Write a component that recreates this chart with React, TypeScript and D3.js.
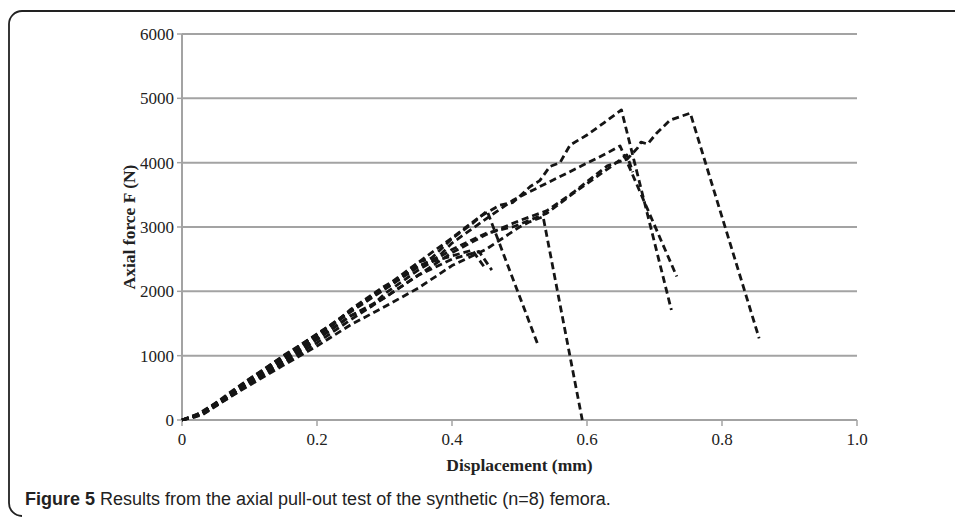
import React from "react";
import * as d3 from "d3";

type Pt = [number, number];

// displacement (mm), axial force (N), one array per femur
const femurA: Pt[] = [[0, 0], [0.02, 70], [0.06, 330], [0.1, 640], [0.13, 830], [0.15, 980], [0.2, 1340], [0.23, 1540], [0.25, 1720], [0.3, 2080], [0.33, 2260], [0.35, 2450], [0.4, 2830], [0.441, 3160], [0.471, 3340], [0.49, 3380], [0.516, 3630], [0.53, 3720], [0.545, 3940], [0.56, 4000], [0.575, 4275], [0.6, 4430], [0.624, 4610], [0.651, 4820], [0.725, 1710]];
const femurB: Pt[] = [[0, 0], [0.02, 50], [0.06, 300], [0.1, 600], [0.15, 950], [0.18, 1150], [0.2, 1300], [0.25, 1680], [0.3, 2030], [0.35, 2380], [0.38, 2540], [0.4, 2750], [0.451, 3130], [0.491, 3420], [0.54, 3680], [0.59, 3940], [0.629, 4145], [0.649, 4260], [0.733, 2230]];
const femurC: Pt[] = [[0, 0], [0.03, 100], [0.07, 380], [0.1, 580], [0.15, 900], [0.2, 1250], [0.25, 1620], [0.28, 1760], [0.3, 1960], [0.35, 2330], [0.4, 2650], [0.45, 2900], [0.491, 3005], [0.54, 3210], [0.58, 3525], [0.614, 3780], [0.639, 3965], [0.659, 4120], [0.668, 3850]];
const femurD: Pt[] = [[0, 0], [0.03, 80], [0.07, 350], [0.1, 560], [0.15, 880], [0.2, 1200], [0.25, 1560], [0.3, 1900], [0.35, 2250], [0.4, 2600], [0.45, 2880], [0.5, 3100], [0.54, 3250], [0.58, 3540], [0.63, 3950], [0.66, 4060], [0.675, 4230], [0.68, 4320], [0.69, 4290], [0.703, 4457], [0.723, 4660], [0.753, 4770], [0.855, 1270]];
const femurE: Pt[] = [[0, 0], [0.02, 60], [0.06, 320], [0.1, 630], [0.15, 1000], [0.2, 1330], [0.25, 1700], [0.3, 2060], [0.35, 2450], [0.37, 2520], [0.4, 2820], [0.43, 3050], [0.452, 3250], [0.528, 1150]];
const femurF: Pt[] = [[0, 0], [0.03, 110], [0.07, 420], [0.1, 640], [0.15, 990], [0.2, 1320], [0.25, 1700], [0.3, 2040], [0.35, 2400], [0.4, 2550], [0.43, 2640], [0.447, 2390]];
const femurG: Pt[] = [[0, 0], [0.04, 160], [0.08, 450], [0.1, 590], [0.15, 930], [0.2, 1260], [0.25, 1620], [0.3, 1900], [0.35, 2250], [0.4, 2500], [0.44, 2620], [0.459, 2330]];
const femurH: Pt[] = [[0, 0], [0.03, 90], [0.07, 350], [0.1, 540], [0.15, 850], [0.2, 1150], [0.25, 1480], [0.3, 1760], [0.35, 2050], [0.4, 2400], [0.45, 2650], [0.5, 3000], [0.515, 3080], [0.535, 3160], [0.593, 0]];

const series = [femurA, femurB, femurC, femurD, femurE, femurF, femurG, femurH];

const xTicks = [0, 0.2, 0.4, 0.6, 0.8, 1.0];
const xTickLabels = ["0", "0.2", "0.4", "0.6", "0.8", "1.0"];
const yTicks = [0, 1000, 2000, 3000, 4000, 5000, 6000];

const xTitle = "Displacement (mm)";
const yTitle = "Axial force F (N)";
const captionBold = "Figure 5";
const captionText = " Results from the axial pull-out test of the synthetic (n=8) femora.";

const W = 955;
const H = 517;
const grid = "#a3a3a3";
const serif = "'Liberation Serif', 'Times New Roman', serif";

export default function App() {
  const x = d3.scaleLinear().domain([0, 1]).range([182, 857]);
  const y = d3.scaleLinear().domain([0, 6000]).range([420, 34]);

  const line = d3
    .line<Pt>()
    .x((d) => x(d[0]))
    .y((d) => y(d[1]));

  return (
    <div style={{ position: "fixed", left: 0, top: 0, width: W, height: H, background: "#fff" }}>
      <svg width={W} height={H}>
        {/* frame */}
        <path d={`M${W},11 H22 A13,13 0 0 0 9,24 V503 A13,13 0 0 0 22,516`} fill="none" stroke="#222" strokeWidth={1.8} />

        {/* gridlines */}
        {yTicks.map((t) => (
          <line key={t} x1={x(0)} x2={x(1)} y1={y(t)} y2={y(t)} stroke={grid} strokeWidth={2} />
        ))}
        {/* y axis + ticks */}
        <line x1={x(0)} x2={x(0)} y1={y(6000)} y2={y(0)} stroke={grid} strokeWidth={2} />
        {yTicks.map((t) => (
          <g key={"yt" + t}>
            <line x1={x(0) - 5} x2={x(0)} y1={y(t)} y2={y(t)} stroke={grid} strokeWidth={1.5} />
            <text x={x(0) - 8} y={y(t)} dy="0.35em" textAnchor="end" fontFamily={serif} fontSize={17} fill="#222">
              {t}
            </text>
          </g>
        ))}
        {/* x ticks */}
        {xTicks.map((t, i) => (
          <g key={"xt" + t}>
            <line x1={x(t)} x2={x(t)} y1={y(0)} y2={y(0) + 6} stroke={grid} strokeWidth={1.5} />
            <text x={x(t)} y={445} textAnchor="middle" fontFamily={serif} fontSize={17} fill="#222">
              {xTickLabels[i]}
            </text>
          </g>
        ))}

        {/* curves */}
        {series.map((s, i) => (
          <path
            key={i}
            d={line(s) || ""}
            fill="none"
            stroke="#151515"
            strokeWidth={2.8}
            strokeDasharray="7,4"
            strokeLinejoin="round"
          />
        ))}

        {/* axis titles */}
        <text x={(x(0) + x(1)) / 2} y={471} textAnchor="middle" fontFamily={serif} fontWeight="bold" fontSize={17.5} fill="#222">
          {xTitle}
        </text>
        <text
          transform={`translate(135,${(y(0) + y(6000)) / 2}) rotate(-90)`}
          textAnchor="middle"
          fontFamily={serif}
          fontWeight="bold"
          fontSize={17.5}
          fill="#222"
        >
          {yTitle}
        </text>

        {/* caption */}
        <text x={25} y={505} fontFamily="'Liberation Sans', Arial, sans-serif" fontSize={18} fill="#222">
          <tspan fontWeight="bold">{captionBold}</tspan>
          <tspan>{captionText}</tspan>
        </text>
      </svg>
    </div>
  );
}
